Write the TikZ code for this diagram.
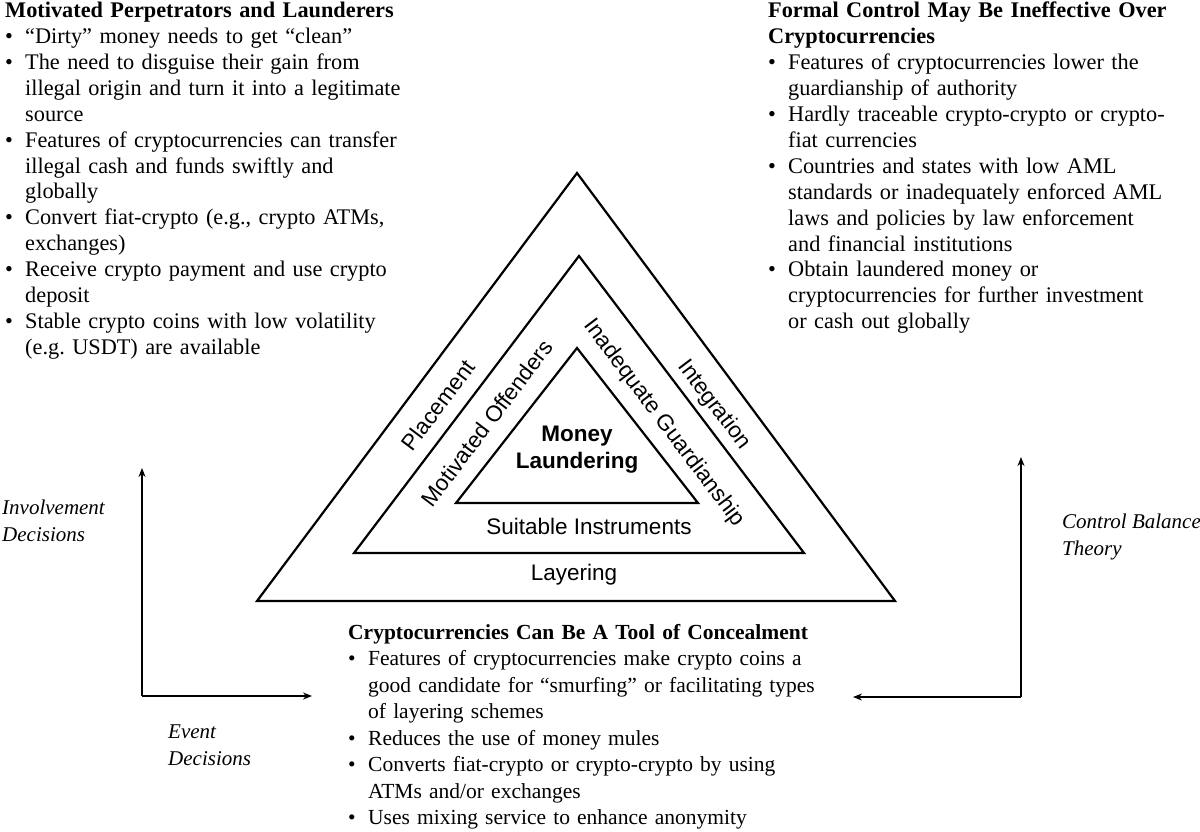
\documentclass[tikz,border=0pt]{standalone}
\usepackage{fontspec}
\usetikzlibrary{arrows.meta}
\setmainfont{Liberation Serif}
\newfontfamily\labfont{Liberation Sans}
\newcommand{\bitm}{\par\noindent\hangindent=20pt\hangafter=1\makebox[20pt][l]{\textbullet}}
\begin{document}
\begin{tikzpicture}[x=1pt,y=-1pt,
  tri/.style={draw,line width=2.2pt,line join=miter},
  blk/.style={anchor=north west,inner sep=0pt,align=left,font=\fontsize{22.3}{25.9}\selectfont},
  lab/.style={font=\labfont\fontsize{22.5}{26}\selectfont,inner sep=0pt},
  ital/.style={font=\itshape\fontsize{21}{27}\selectfont,align=left,anchor=north west,inner sep=0pt},
  arr/.style={line width=1.3pt,-{Stealth[length=9pt,width=7pt]}}]
\useasboundingbox (0,0) rectangle (1200,831);
\draw[tri] (577,173) -- (895,601) -- (257,601) -- cycle;
\draw[tri] (579,256) -- (804,553) -- (354,553) -- cycle;
\draw[tri] (577,348) -- (698,503) -- (456,503) -- cycle;
\node[lab,rotate=53] (pl) at (438,405) {Placement};
\node[lab,rotate=-53] (in) at (714,405) {Integration};
\node[lab] (ly) at (574,575) {Layering};
\node[lab,rotate=53] (mo) at (487,423) {Motivated Offenders};
\node[lab,rotate=-53] (ig) at (664,423) {Inadequate Guardianship};
\node[lab] (si) at (589,526) {Suitable Instruments};
\node[lab,font=\labfont\bfseries\fontsize{22.5}{27}\selectfont,align=center] (ml) at (577,450) {Money\\Laundering};
\node[blk,text width=400pt] (tl) at (5,2) {\hyphenpenalty=10000 \textbf{Motivated Perpetrators and Launderers}
\bitm ``Dirty'' money needs to get ``clean''
\bitm The need to disguise their gain from illegal origin and turn it into a legitimate source
\bitm Features of cryptocurrencies can transfer illegal cash and funds swiftly and globally
\bitm Convert fiat-crypto (e.g., crypto ATMs, exchanges)
\bitm Receive crypto payment and use crypto deposit
\bitm Stable crypto coins with low volatility (e.g.\ USDT) are available\par};
\node[blk,text width=402pt] (tr) at (768,2) {\hyphenpenalty=10000 \textbf{Formal Control May Be Ineffective Over Cryptocurrencies}
\bitm Features of cryptocurrencies lower the guardianship of authority
\bitm Hardly traceable crypto-crypto or crypto-fiat currencies
\bitm Countries and states with low AML standards or inadequately enforced AML laws and policies by law enforcement and financial institutions
\bitm Obtain laundered money or cryptocurrencies for further investment or cash out globally\par};
\node[blk,text width=484pt,font=\fontsize{21.5}{26.5}\selectfont] (bt) at (348,624) {\hyphenpenalty=10000 \textbf{Cryptocurrencies Can Be A Tool of Concealment}
\bitm Features of cryptocurrencies make crypto coins a good candidate for ``smurfing'' or facilitating types of layering schemes
\bitm Reduces the use of money mules
\bitm Converts fiat-crypto or crypto-crypto by using\hfil\break ATMs and/or exchanges
\bitm Uses mixing service to enhance anonymity\par};
\coordinate (lc) at (142,696); \coordinate (lt) at (142,468); \coordinate (lr) at (312,696);
\coordinate (rc) at (1021,697); \coordinate (rt) at (1021,457); \coordinate (rl) at (853,697);
\draw[arr] (lc) -- (lt);
\draw[arr] (lc) -- (lr);
\draw[arr] (rc) -- (rt);
\draw[arr] (rc) -- (rl);
\node[ital] (iv) at (2,500) {Involvement\\Decisions};
\node[ital] (ev) at (168,725) {Event\\Decisions};
\node[ital] (cb) at (1062,514) {Control Balance\\Theory};
\end{tikzpicture}
\end{document}
